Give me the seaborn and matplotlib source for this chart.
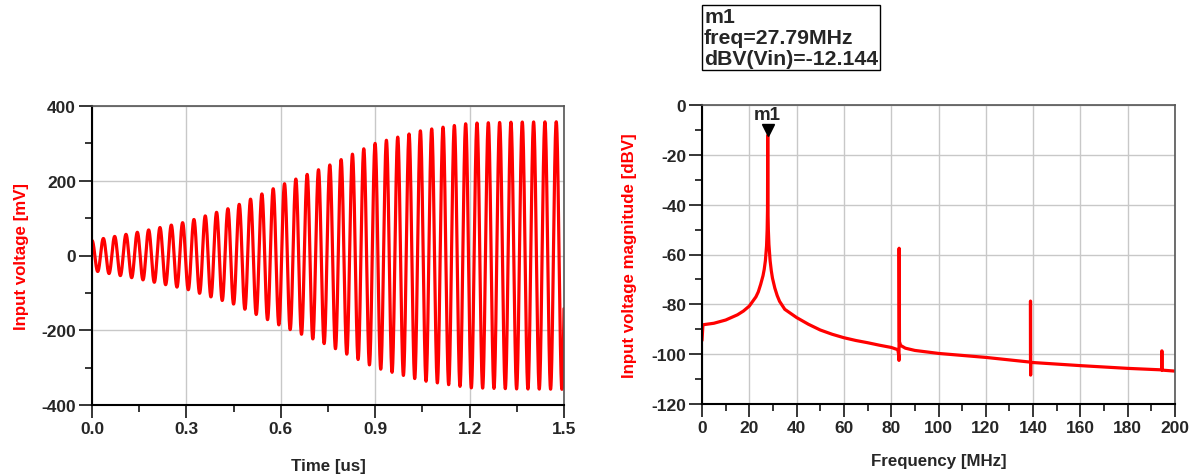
import numpy as np
import pandas as pd
import seaborn as sns
import matplotlib.pyplot as plt
from matplotlib.ticker import MultipleLocator

# --- data ---
# left: oscillation at the marker frequency, envelope (peak mV) read at these times
FREQ_MHZ = 27.79
env_t_us = [0.0, 0.15, 0.3, 0.45, 0.6, 0.75, 0.9, 1.05, 1.2, 1.35, 1.5]
env_mv = [40, 63, 90, 130, 188, 240, 300, 335, 354, 357, 358]

# right: spectrum magnitude [dBV] read at these frequencies [MHz]
spec_f = [0.0, 0.4, 5, 10, 15, 17.5, 20, 22.8, 23.8, 24.8, 25.8, 26.3, 26.8,
          27.3, 27.55, 27.7, 27.79, 27.88, 28.05, 28.3, 28.8, 29.3, 29.8,
          30.8, 31.8, 32.8, 35, 40, 45, 50, 55, 60, 65, 70, 75, 80, 82.8,
          83.2, 83.3, 83.35, 83.5, 84, 86, 90, 100, 120, 138.9, 138.9,
          138.95, 139.0, 139.0, 160, 180, 194.4, 194.4, 194.5, 194.5, 200]
spec_db = [-94.5, -88.2, -87.6, -86.3, -84.2, -82.7, -80.7, -77.0, -75.0,
           -72.0, -68.5, -66.0, -62.5, -56.5, -50.0, -42.0, -12.144, -42.0,
           -50.0, -56.0, -62.5, -66.5, -69.5, -73.5, -76.5, -78.8, -82.0,
           -85.3, -88.0, -90.3, -92.0, -93.4, -94.5, -95.4, -96.4, -97.3,
           -98.2, -100.5, -102.5, -57.5, -95.0, -96.5, -97.6, -98.5, -99.7,
           -101.3, -103.2, -78.7, -108.4, -103.3, -103.3, -104.6, -105.7,
           -106.3, -98.7, -98.7, -106.4, -106.8]

marker_freq = 27.79
marker_db = -12.144

# build waveform from the read envelope
t = np.linspace(0, 1.5, 6000)
amp = np.interp(t, env_t_us, env_mv)
wave = pd.DataFrame({'t': t, 'v': amp * np.cos(2 * np.pi * FREQ_MHZ * t)})
spec = pd.DataFrame({'f': spec_f, 'db': spec_db})

sns.set_style('white')
plt.rcParams['font.family'] = ['Liberation Sans', 'DejaVu Sans']
plt.rcParams['font.weight'] = 'bold'
plt.rcParams['axes.unicode_minus'] = False

fig = plt.figure(figsize=(11.92, 4.77), dpi=100)
ax1 = fig.add_axes([92 / 1192, 1 - 406 / 477, 472 / 1192, 299 / 477])
ax2 = fig.add_axes([702 / 1192, 1 - 405 / 477, 473 / 1192, 299 / 477])

sns.lineplot(data=wave, x='t', y='v', ax=ax1, color='red', linewidth=2.3,
             estimator=None, sort=False)
sns.lineplot(data=spec, x='f', y='db', ax=ax2, color='red', linewidth=2.3,
             estimator=None, sort=False, solid_joinstyle='round')


def style_axes(ax, xlim, ylim, xmaj, xmin, ymaj, ymin):
    ax.set_xlim(*xlim)
    ax.set_ylim(*ylim)
    ax.xaxis.set_major_locator(MultipleLocator(xmaj))
    ax.xaxis.set_minor_locator(MultipleLocator(xmin))
    ax.yaxis.set_major_locator(MultipleLocator(ymaj))
    ax.yaxis.set_minor_locator(MultipleLocator(ymin))
    ax.grid(True, which='major', color='#c8c8c8', linewidth=1)
    ax.set_axisbelow(True)
    for s in ['left', 'bottom']:
        ax.spines[s].set_color('black')
        ax.spines[s].set_linewidth(1.5)
    for s in ['top', 'right']:
        ax.spines[s].set_color('#555555')
        ax.spines[s].set_linewidth(1.2)
    ax.tick_params(which='major', direction='out', length=9.5, width=1.3,
                   labelsize=12.5, bottom=True, left=True, pad=2)
    ax.tick_params(which='minor', direction='out', length=5, width=1.3,
                   bottom=True, left=True)
    for lab in ax.get_xticklabels() + ax.get_yticklabels():
        lab.set_fontweight('bold')


style_axes(ax1, (0, 1.5), (-400, 400), 0.3, 0.15, 200, 100)
ax1.xaxis.set_major_formatter(lambda v, p: f'{v:.1f}')
ax1.set_xlabel('Time [us]', fontsize=12.2, fontweight='bold', labelpad=16)
ax1.set_ylabel('Input voltage [mV]', fontsize=12.2, fontweight='bold',
               color='red', labelpad=9)

style_axes(ax2, (0, 200), (-120, 0), 20, 10, 20, 10)
ax2.set_xlabel('Frequency [MHz]', fontsize=12.2, fontweight='bold', labelpad=13)
ax2.set_ylabel('Input voltage magnitude [dBV]', fontsize=12.2, fontweight='bold',
               color='red', labelpad=10)

# marker m1
ax2.plot([marker_freq], [-10], marker='v', color='black', markersize=8,
         clip_on=False)
ax2.text(marker_freq, -3.8, 'm1', ha='center', va='center', fontsize=13.5,
         fontweight='bold')
fig.text(704 / 1192, 1 - 8 / 477, f'm1\nfreq={marker_freq:.2f}MHz\ndBV(Vin)={marker_db}',
         ha='left', va='top', fontsize=15.3, fontweight='bold', linespacing=1.12,
         bbox=dict(boxstyle='square,pad=0.1', facecolor='white',
                   edgecolor='black', linewidth=1))

fig.savefig('out.png', dpi=100)
